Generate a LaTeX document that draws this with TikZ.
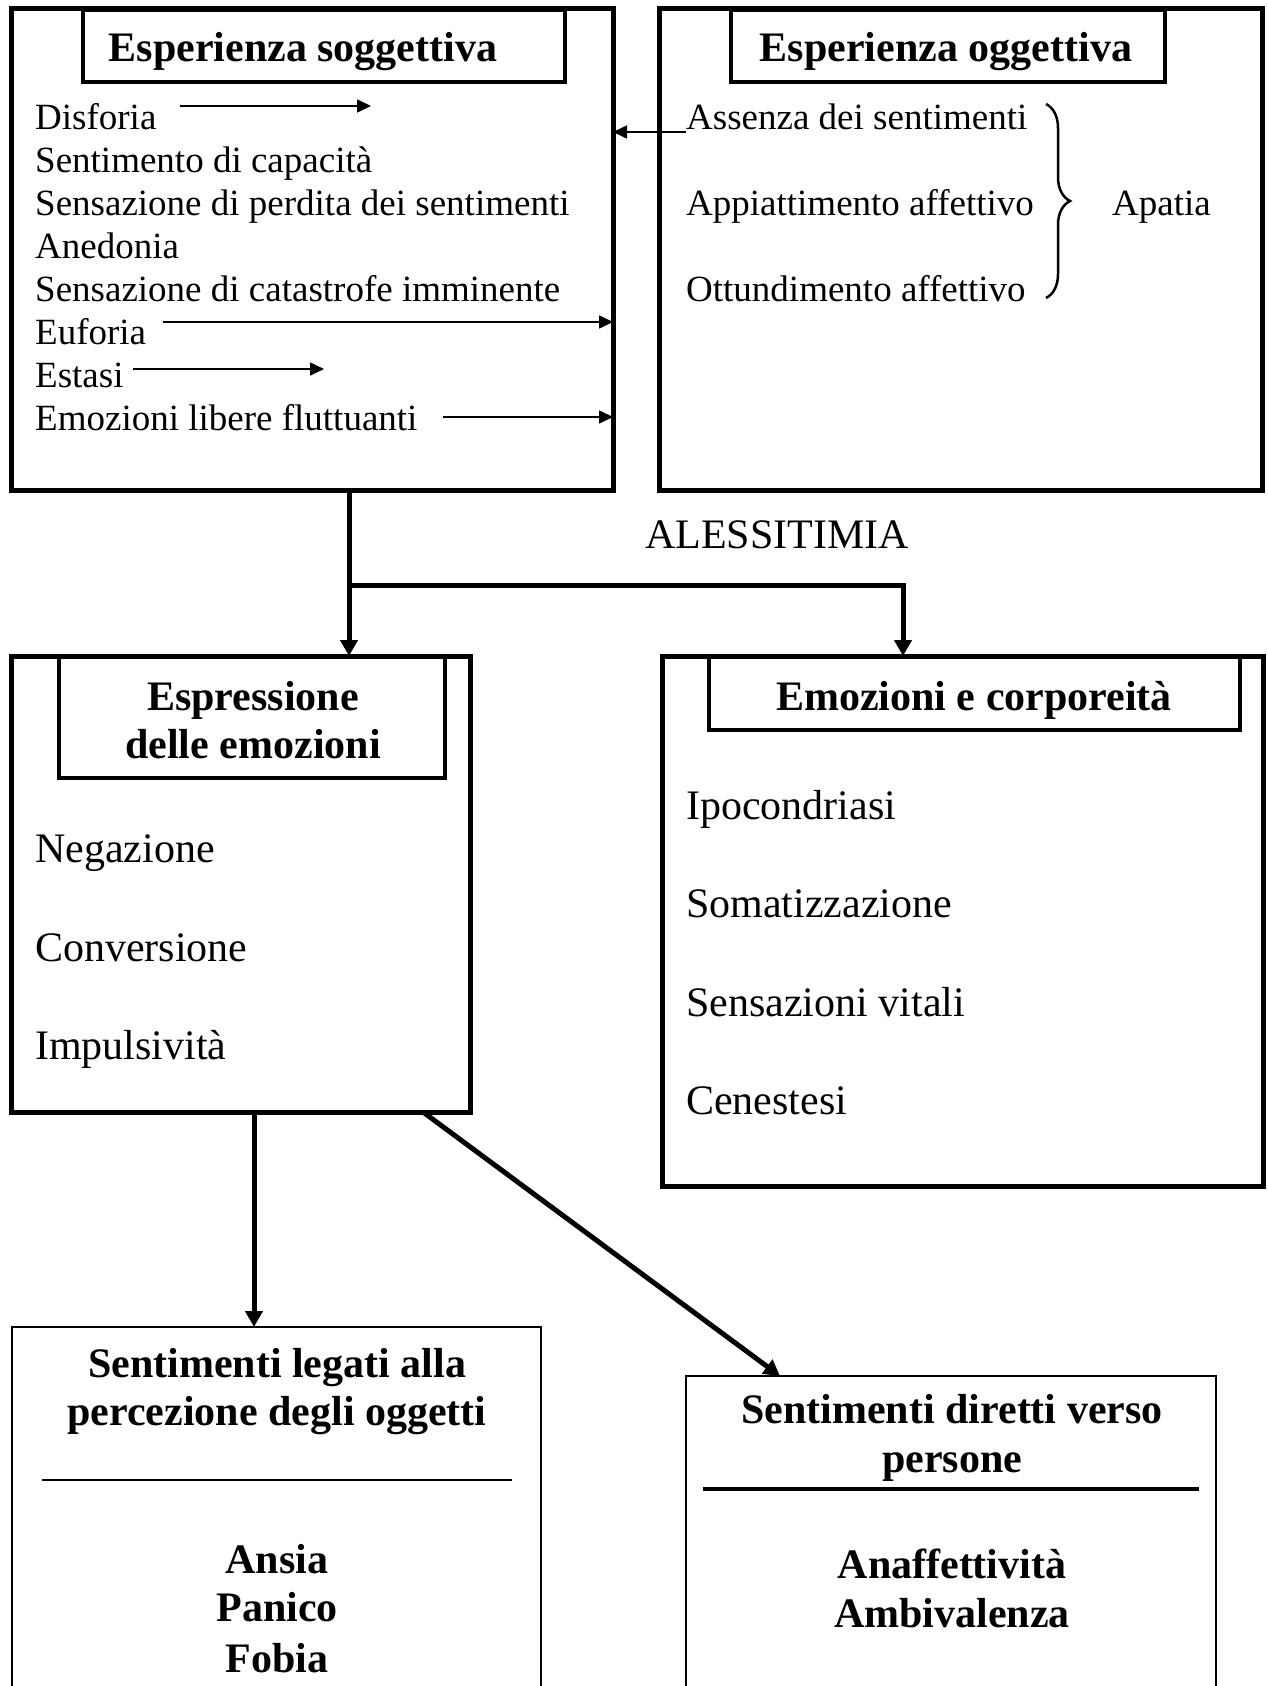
\documentclass[tikz,border=0pt]{standalone}
\usepackage{fontspec}
\setmainfont{Liberation Serif}
\usetikzlibrary{arrows.meta,decorations.pathreplacing}

\tikzset{
  bigbox/.style={draw, line width=5pt, inner sep=0pt, outer sep=0pt, anchor=north west},
  titlebox/.style={draw, line width=4.5pt, inner sep=0pt, outer sep=0pt, anchor=north west},
  thinbox/.style={draw, line width=1.5pt, inner sep=0pt, outer sep=0pt, anchor=north west},
  item/.style={anchor=base west, inner sep=0pt, font=\fontsize{37}{43}\selectfont},
  bigitem/.style={anchor=base west, inner sep=0pt, font=\fontsize{42}{50}\selectfont},
  head/.style={anchor=base, inner sep=0pt, font=\fontsize{42}{48}\selectfont\bfseries},
  link/.style={line width=5pt, -{Triangle[length=16pt,width=17pt]}},
  smallarr/.style={line width=1.6pt, -{Triangle[length=14pt,width=13pt]}}
}

\begin{document}
\begin{tikzpicture}[x=1pt,y=-1pt]
		\useasboundingbox (0,0) rectangle (1267,1686);
		\clip (0,0) rectangle (1267,1686);
		
		% esperienza soggettiva
		\node[bigbox, minimum width=602pt, minimum height=481pt] (sogg) at (11,9) {};
		\node[titlebox, minimum width=482pt, minimum height=72pt] (sogg-t) at (83,10) {};
		\node[head] (sogg-h) at (303,62) {Esperienza soggettiva};
		\node[item] (dis) at (35,129) {Disforia};
		\node[item] (cap) at (35,172) {Sentimento di capacità};
		\node[item] (perd) at (35,215) {Sensazione di perdita dei sentimenti};
		\node[item] (ane) at (35,258) {Anedonia};
		\node[item] (cat) at (35,301) {Sensazione di catastrofe imminente};
		\node[item] (euf) at (35,344) {Euforia};
		\node[item] (est) at (35,387) {Estasi};
		\node[item] (emo) at (35,430) {Emozioni libere fluttuanti};
		
		% esperienza oggettiva
		\node[bigbox, minimum width=603pt, minimum height=481pt] (ogg) at (659,9) {};
		\node[titlebox, minimum width=434pt, minimum height=72pt] (ogg-t) at (731,10) {};
		\node[head] (ogg-h) at (946,62) {Esperienza oggettiva};
		\node[item] (ass) at (686,129) {Assenza dei sentimenti};
		\node[item] (app) at (686,215) {Appiattimento affettivo};
		\node[item] (ott) at (686,301) {Ottundimento affettivo};
		\node[item] (apa) at (1112,215) {Apatia};
		\draw[line width=2.5pt, decorate, decoration={brace, amplitude=24pt}] (1046,104) -- (1046,298);
		
		% small arrows
		\coordinate (dis-a) at (180,106); \coordinate (dis-b) at (371,106);
		\draw[smallarr] (dis-a) -- (dis-b);
		\coordinate (euf-a) at (163,322); \draw[smallarr] (euf-a) -- (euf-a -| sogg.east);
		\coordinate (est-a) at (133,369); \coordinate (est-b) at (324,369);
		\draw[smallarr] (est-a) -- (est-b);
		\coordinate (emo-a) at (443,417); \draw[smallarr] (emo-a) -- (emo-a -| sogg.east);
		\coordinate (ass-a) at (686,132); \draw[smallarr] (ass-a) -- (ass-a -| sogg.east);
		
		\node[bigitem, anchor=base] (ales) at (777,548) {ALESSITIMIA};
		
		% espressione delle emozioni
		\node[bigbox, minimum width=459pt, minimum height=456pt] (espr) at (11,656) {};
		\node[titlebox, minimum width=386pt, minimum height=121pt] (espr-t) at (59,657) {};
		\node[head] (espr-h1) at (253,710) {Espressione};
		\node[head] (espr-h2) at (253,758) {delle emozioni};
		\node[bigitem] (neg) at (35,862) {Negazione};
		\node[bigitem] (conv) at (35,961) {Conversione};
		\node[bigitem] (imp) at (35,1059) {Impulsività};
		
		% emozioni e corporeita
		\node[bigbox, minimum width=601pt, minimum height=530pt] (corp) at (662,656) {};
		\node[titlebox, minimum width=531pt, minimum height=73pt] (corp-t) at (709,657) {};
		\node[head] (corp-h) at (974,710) {Emozioni e corporeità};
		\node[bigitem] (ipo) at (686,819) {Ipocondriasi};
		\node[bigitem] (som) at (686,917) {Somatizzazione};
		\node[bigitem] (vit) at (686,1016) {Sensazioni vitali};
		\node[bigitem] (cen) at (686,1114) {Cenestesi};
		
		% sentimenti
		\node[thinbox, minimum width=529pt, minimum height=420pt] (perc) at (12,1327) {};
		\node[head] (perc-h1) at (277,1377) {Sentimenti legati alla};
		\node[head] (perc-h2) at (277,1425) {percezione degli oggetti};
		\draw[line width=1.5pt] (42,1480) -- (512,1480);
		\node[head] (ansia) at (277,1573) {Ansia};
		\node[head] (panico) at (277,1621) {Panico};
		\node[head] (fobia) at (277,1672) {Fobia};
		
		\node[thinbox, minimum width=530pt, minimum height=380pt] (pers) at (686,1376) {};
		\node[head] (pers-h1) at (952,1423) {Sentimenti diretti verso};
		\node[head] (pers-h2) at (952,1472) {persone};
		\draw[line width=4pt] (703,1489) -- (1199,1489);
		\node[head] (anaf) at (952,1578) {Anaffettività};
		\node[head] (ambi) at (952,1627) {Ambivalenza};
		
		% connectors
		\coordinate (split) at (349,585); \coordinate (splitR) at (903,585);
		\draw[link] (sogg.south -| split) -- (split) -- (splitR) -- (corp.north -| splitR);
		\draw[link] (split) -- (espr.north -| split);
		\coordinate (down) at (254,0);
		\draw[link] (espr.south -| down) -- (perc.north -| down);
		\coordinate (diag-a) at (423,0); \coordinate (diag-b) at (780,0);
		\draw[link] (espr.south -| diag-a) -- (pers.north -| diag-b);
		\end{tikzpicture}
\end{document}
